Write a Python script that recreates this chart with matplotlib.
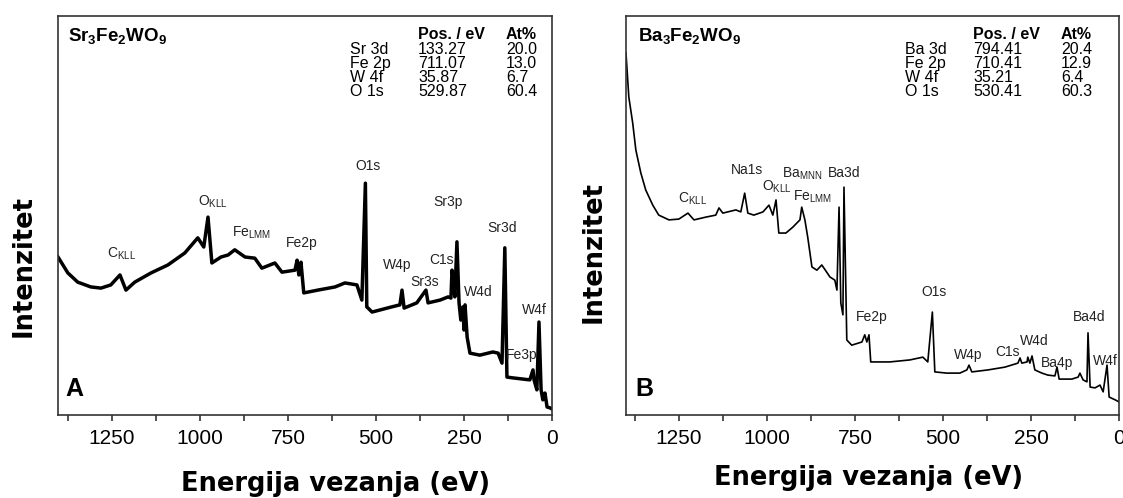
import matplotlib
matplotlib.use('Agg')
import matplotlib.pyplot as plt
from matplotlib.ticker import MultipleLocator

plt.rcParams['font.family'] = ['Liberation Sans', 'DejaVu Sans']
plt.rcParams['mathtext.fontset'] = 'custom'
plt.rcParams['mathtext.rm'] = 'Liberation Sans'
plt.rcParams['mathtext.it'] = 'Liberation Sans:italic'
plt.rcParams['mathtext.bf'] = 'Liberation Sans:bold'

# survey spectrum A: Sr3Fe2WO9 (binding energy in eV, intensity in a.u.)
be_a = [1403, 1375, 1347, 1310, 1281, 1253, 1227, 1210, 1185, 1139, 1091, 1043, 1006, 989, 977, 966,
        940, 920, 901, 872, 844, 824, 787, 767, 730, 724, 719, 713, 705, 665, 616, 588, 554, 540,
        530, 526, 511, 455, 432, 426, 420, 384, 358, 352, 318, 295, 287, 284, 281, 276, 270, 264,
        259, 253, 250, 247, 241, 233, 205, 168, 153, 142, 134, 128, 111, 63, 54, 51, 43, 37, 31,
        26, 20, 14, 6, 0]
int_a = [39.6, 35.6, 33.3, 32.1, 31.8, 32.6, 35.1, 31.3, 33.3, 35.6, 37.6, 40.6, 44.4, 42.1, 49.6, 38.1,
         39.6, 40.1, 41.4, 39.6, 39.3, 36.8, 38.1, 35.8, 36.3, 38.8, 35.1, 38.3, 30.6, 31.3, 32.1, 33.1,
         32.6, 28.8, 58.1, 27.1, 25.8, 27.1, 27.6, 31.3, 26.8, 28.1, 31.3, 28.1, 28.8, 29.6, 29.3, 36.3,
         34.6, 29.6, 43.4, 28.1, 23.8, 27.1, 21.3, 27.6, 19.5, 15.5, 15.0, 15.8, 15.5, 13.0, 41.9, 9.5,
         9.3, 8.8, 11.3, 8.8, 6.3, 23.3, 6.3, 3.8, 5.5, 2.0, 1.8, 1.5]

# survey spectrum B: Ba3Fe2WO9
be_b = [1400, 1392, 1381, 1372, 1358, 1344, 1324, 1307, 1278, 1250, 1224, 1207, 1173, 1145, 1136, 1125,
        1088, 1074, 1063, 1054, 1037, 1011, 994, 983, 974, 966, 946, 926, 915, 906, 901, 892, 884,
        872, 858, 844, 830, 821, 807, 801, 795, 790, 784, 781, 773, 759, 730, 722, 716, 710, 705,
        651, 594, 557, 543, 530, 523, 489, 452, 432, 426, 418, 372, 324, 287, 281, 276, 261, 259,
        253, 247, 239, 219, 202, 182, 176, 170, 134, 116, 111, 102, 91, 88, 82, 68, 54, 45, 34, 28,
        11, 0]
int_b = [90.7, 79.7, 73.2, 66.4, 60.7, 56.4, 52.6, 50.1, 48.9, 49.1, 50.6, 48.9, 49.6, 50.1, 51.9, 50.6,
         51.4, 50.9, 55.6, 50.6, 50.1, 50.9, 52.6, 50.1, 53.9, 45.6, 45.6, 47.1, 48.1, 48.9, 52.1, 48.9,
         44.6, 37.1, 36.3, 37.6, 35.8, 34.6, 33.8, 31.3, 52.1, 28.1, 25.1, 57.1, 18.8, 17.5, 18.3, 20.1,
         18.3, 20.1, 13.3, 13.3, 13.8, 14.5, 13.3, 25.8, 10.8, 10.5, 10.5, 11.3, 12.5, 10.8, 11.3, 12.0,
         13.0, 14.3, 13.0, 13.3, 14.5, 13.0, 14.8, 11.3, 10.5, 10.0, 9.8, 12.0, 9.0, 9.0, 9.5, 10.5,
         8.8, 8.3, 20.6, 7.0, 6.8, 7.5, 5.8, 12.5, 4.5, 3.8, 3.3]

# quantification tables
lines_a = ['Sr 3d', 'Fe 2p', 'W 4f', 'O 1s']
pos_a = ['133.27', '711.07', '35.87', '529.87']
at_a = ['20.0', '13.0', '6.7', '60.4']
lines_b = ['Ba 3d', 'Fe 2p', 'W 4f', 'O 1s']
pos_b = ['794.41', '710.41', '35.21', '530.41']
at_b = ['20.4', '12.9', '6.4', '60.3']

# peak labels (text, energy, intensity)
peaks_a = [(r'C$_{\mathrm{KLL}}$', 1222, 40.4), (r'O$_{\mathrm{KLL}}$', 963, 53.4),
           (r'Fe$_{\mathrm{LMM}}$', 852, 45.6), ('Fe2p', 710, 43.1), ('O1s', 523, 62.4),
           ('W4p', 440, 37.6), ('Sr3s', 361, 33.3), ('C1s', 315, 38.8), ('Sr3p', 295, 53.4),
           ('Sr3d', 142, 46.9), ('W4d', 210, 30.8), ('W4f', 51, 26.3), ('Fe3p', 85, 15.0)]
peaks_b = [('Na1s', 1057, 61.4), (r'C$_{\mathrm{KLL}}$', 1210, 54.1), (r'O$_{\mathrm{KLL}}$', 972, 57.1),
           (r'Ba$_{\mathrm{MNN}}$', 901, 60.4), ('Ba3d', 781, 60.7), (r'Fe$_{\mathrm{LMM}}$', 869, 54.6),
           ('Fe2p', 702, 24.6), ('O1s', 526, 30.8), ('W4p', 429, 15.0), ('C1s', 318, 15.8),
           ('W4d', 241, 18.5), ('Ba4p', 176, 13.0), ('Ba4d', 85, 24.6), ('W4f', 40, 13.5)]

W, H = 1123, 498


def px(x, y):
    return x / W, 1 - y / H


fig = plt.figure(figsize=(W / 100, H / 100), dpi=100)
ax_a = fig.add_axes([58 / W, 1 - 415 / H, 494 / W, 399 / H])
ax_b = fig.add_axes([626 / W, 1 - 415 / H, 493 / W, 399 / H])

ax_a.plot(be_a, int_a, color='black', lw=2.5)
ax_b.plot(be_b, int_b, color='black', lw=1.2)
ax_a.set_xlim(1403, 0)
ax_b.set_xlim(1400, 0)

for ax, peaks, letter, lx in [(ax_a, peaks_a, 'A', 65), (ax_b, peaks_b, 'B', 635)]:
    ax.set_ylim(0, 100)
    ax.set_yticks([])
    ax.set_xticks([1250, 1000, 750, 500, 250, 0])
    ax.xaxis.set_minor_locator(MultipleLocator(125))
    ax.tick_params(axis='x', which='both', direction='out', length=4, width=1.2, colors='#333333',
                   labelsize=15, pad=6, labelcolor='black')
    for s in ax.spines.values():
        s.set_color('#333333')
        s.set_linewidth(1.2)
    for label, e, i in peaks:
        ax.text(e, i, label, ha='center', va='center', fontsize=10, color='#222222')
    fig.text(*px(lx, 396), letter, fontsize=18, fontweight='bold', ha='left', va='baseline')

# formula + tables
fig.text(*px(68, 41), r'$\mathbf{Sr_3Fe_2WO_9}$', fontsize=13.5, ha='left', va='baseline')
fig.text(*px(638, 41), r'$\mathbf{Ba_3Fe_2WO_9}$', fontsize=13.5, ha='left', va='baseline')

for x0, lines, pos, at in [(350, lines_a, pos_a, at_a), (905, lines_b, pos_b, at_b)]:
    fig.text(*px(x0 + 68, 39), 'Pos. / eV', fontsize=11.5, fontweight='bold', ha='left', va='baseline')
    fig.text(*px(x0 + 156, 39), 'At%', fontsize=11.5, fontweight='bold', ha='left', va='baseline')
    for k in range(len(lines)):
        yb = 54.3 + k * 13.8
        fig.text(*px(x0, yb), lines[k], fontsize=11.5, ha='left', va='baseline')
        fig.text(*px(x0 + 68, yb), pos[k], fontsize=11.5, ha='left', va='baseline')
        fig.text(*px(x0 + 156, yb), at[k], fontsize=11.5, ha='left', va='baseline')

# axis titles
fig.text(*px(24, 266), 'Intenzitet', fontsize=18.5, fontweight='bold', family='DejaVu Sans',
         rotation=90, ha='center', va='center')
fig.text(*px(594, 252), 'Intenzitet', fontsize=18.5, fontweight='bold', family='DejaVu Sans',
         rotation=90, ha='center', va='center')
fig.text(*px(336, 484), 'Energija vezanja (eV)', fontsize=18.5, fontweight='bold', family='DejaVu Sans',
         ha='center', va='center')
fig.text(*px(869, 478), 'Energija vezanja (eV)', fontsize=18.5, fontweight='bold', family='DejaVu Sans',
         ha='center', va='center')

fig.savefig('out.png', dpi=100, facecolor='white')
